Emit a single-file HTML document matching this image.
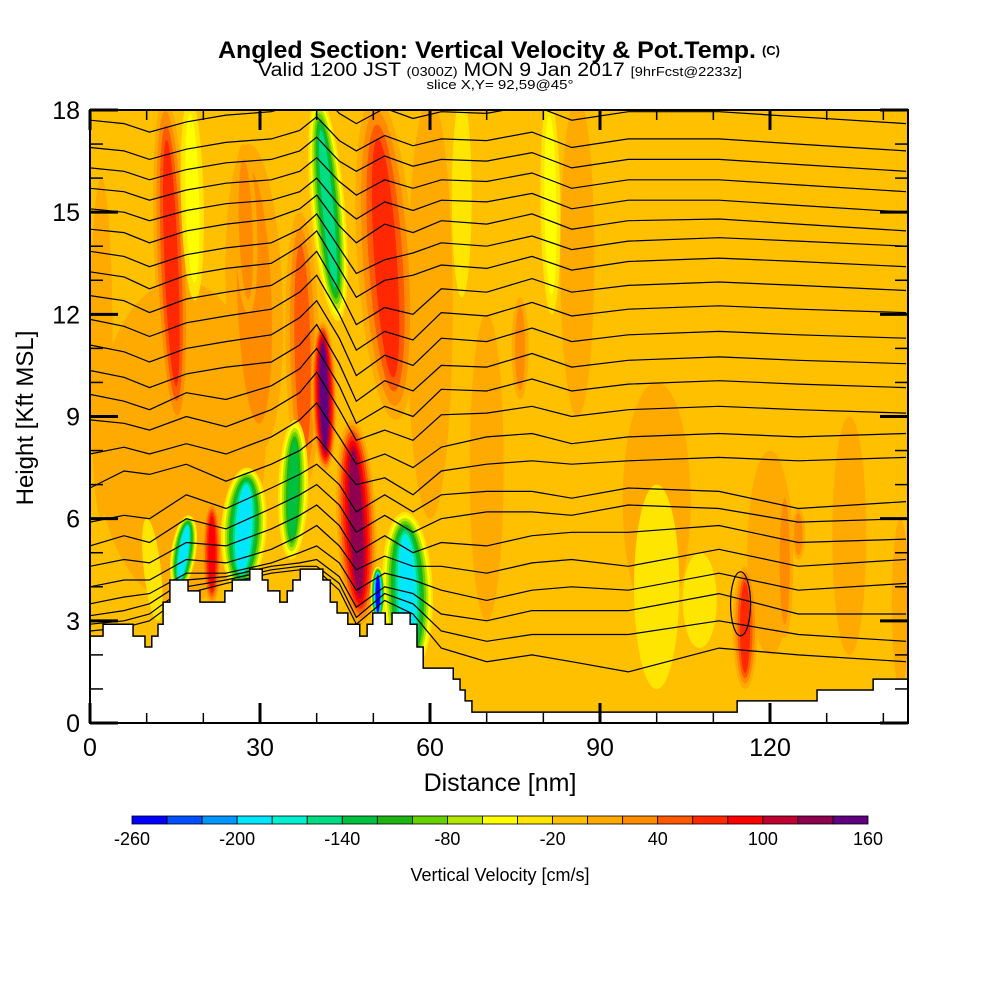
<!DOCTYPE html>
<html><head><meta charset="utf-8">
<style>
html,body{margin:0;padding:0;background:#fff;}
svg{display:block;font-family:"Liberation Sans",Arial,sans-serif;}
</style></head>
<body>
<svg id="chart" width="1000" height="1000" viewBox="0 0 1000 1000" xmlns="http://www.w3.org/2000/svg">
  <defs><clipPath id="plotclip"><rect x="90" y="110" width="818" height="613"/></clipPath></defs>
  <g>
    <text x="487" y="58" text-anchor="middle" font-size="24" font-weight="bold" textLength="538" lengthAdjust="spacingAndGlyphs">Angled Section: Vertical Velocity &amp; Pot.Temp.</text>
    <text x="771" y="55" text-anchor="middle" font-size="13" font-weight="bold">(C)</text>
  </g>
  <text x="500" y="76" text-anchor="middle" font-size="19" textLength="484" lengthAdjust="spacingAndGlyphs">Valid 1200 JST <tspan font-size="13">(0300Z)</tspan> MON 9 Jan 2017 <tspan font-size="13">[9hrFcst@2233z]</tspan></text>
  <text x="500" y="89" text-anchor="middle" font-size="13" textLength="147" lengthAdjust="spacingAndGlyphs">slice X,Y= 92,59@45°</text>
  <g id="plot" clip-path="url(#plotclip)"></g>
  <g id="axes"></g>
  <g id="cbar"></g>
  <text x="500" y="791" text-anchor="middle" font-size="25">Distance [nm]</text>
  <text transform="translate(33,418) rotate(-90)" text-anchor="middle" font-size="24">Height [Kft MSL]</text>
  <text x="500" y="881" text-anchor="middle" font-size="18">Vertical Velocity [cm/s]</text>
</svg>
<script>
// ---- data ----
const xTicks = [0,30,60,90,120];
const yTicks = [0,3,6,9,12,15,18];
const cbLevels = [-260,-240,-220,-200,-180,-160,-140,-120,-100,-80,-60,-40,-20,0,20,40,60,80,100,120,140,160];
const cbLabels = [-260,-200,-140,-80,-20,40,100,160];
const cbColors = ["#0000ff","#0050ff","#0096ff","#00e6ff","#00f0d2","#00dc82","#00c040","#1eb414","#64d200","#b4e600","#ffff00","#ffe600","#ffc000","#ffaa00","#ff8c00","#ff5a00","#ff2800","#ff0000","#c00030","#900050","#600080"];
// velocity blobs: start nm, start kft, end nm, end kft, width nm, peak level index
const blobX1 = [16,28,60,70,100,120,134,86,143,2,13.2,17.6,37,50.3,81,65.6,75.9,122.6,100,107.6,125,115.6,40.2,41,46.2,21.5,17.5,27.8,36.2,55.5,50.8,27,10];
const blobY1 = [13,17,18.4,12,10,8,9,18.4,6,16,18.4,18.4,15,18.4,18.4,18.4,12.5,7,7,5,6.3,4.6,18.4,11.8,8.9,6.5,6.1,7.5,8.9,6.2,4.6,17,6];
const blobX2 = [16,30,60,70,100,120,134,86,143,2,15.5,18.5,38,54,81.5,65.6,75.9,122.6,100,107.6,125,115.6,43.8,41.6,47.8,21.5,15.5,26.5,35.5,56.5,50.8,28,12];
const blobY2 = [3.5,8,6,3,3,2,2,9,1,6,8.6,12.4,7,8.9,12,12.5,9.5,2.5,1,2.2,4.8,1,11.8,7.4,2.9,3.5,3.9,3.9,4.8,1.5,3.0,12,3];
const blobW = [30,10,8,6,12,8,6,6,3,4,6,4,6,10,3.5,3.5,3,3,8,6,2.5,4.4,6,4.4,7,3.5,4.4,8,5.3,9,2.6,4,3];
const blobPeak = [13,14,13,13,13,13,13,13,13,13,16,10,15,16,10,11,14,14,11,11,14,16,5,20,19,17,3,3,6,3,0,14,11];
// terrain (step function): segment start nm and height kft
const terrStart = [0,2.3,7.6,9.7,10.9,12.0,12.9,14.1,17.3,19.4,23.8,25.1,28.2,30.4,31.4,33.5,34.8,35.8,37.1,41.1,42.4,43.6,45.5,47.6,48.9,49.9,52.1,53.3,56.5,57.7,58.8,64.1,65.3,66.2,67.4,114.2,128.3,138.2];
const terrH = [2.55,2.9,2.55,2.23,2.55,2.9,3.55,4.2,3.88,3.55,3.88,4.2,4.52,4.2,3.88,3.55,3.88,4.2,4.52,4.2,3.55,3.23,2.9,2.55,2.9,3.23,2.9,3.23,2.9,2.23,1.61,1.29,0.97,0.65,0.32,0.65,0.97,1.29];
// potential temperature contours, sampled at these distances
const contourX = [0,6,10.5,17,24,32,37,40,44,47,52,57,62,70,78,85,95,111,125,144];
const c01 = [17.7,17.6,17.35,17.65,17.85,17.95,18.2,18.6,17.9,17.6,18.05,17.75,17.95,17.9,18.15,17.7,17.95,17.95,17.8,17.6];
const c02 = [16.9,16.8,16.55,16.85,17.05,17.15,17.4,17.8,17.1,16.8,17.25,16.95,17.15,17.1,17.35,16.9,17.15,17.15,17.0,16.8];
const c03 = [16.3,16.2,15.95,16.25,16.45,16.55,16.8,17.2,16.5,16.2,16.65,16.35,16.55,16.5,16.75,16.3,16.55,16.55,16.4,16.2];
const c04 = [15.7,15.6,15.35,15.65,15.85,15.95,16.2,16.6,15.9,15.5,15.95,15.7,15.95,15.9,16.15,15.7,15.95,15.95,15.8,15.6];
const c05 = [15.1,15.0,14.75,15.05,15.25,15.35,15.6,16.0,15.2,14.8,15.3,15.05,15.35,15.3,15.55,15.1,15.35,15.35,15.2,15.0];
const c06 = [14.5,14.4,14.1,14.45,14.65,14.8,15.1,15.5,14.6,14.1,14.65,14.4,14.75,14.65,14.95,14.5,14.75,14.8,14.65,14.45];
const c07 = [13.85,13.7,13.4,13.75,13.95,14.1,14.5,14.95,13.95,13.2,13.6,13.8,14.1,14.0,14.3,13.9,14.15,14.25,14.15,14.0];
const c08 = [13.25,13.1,12.75,13.15,13.35,13.5,14.0,14.45,13.35,12.5,13.0,13.15,13.45,13.35,13.7,13.3,13.55,13.65,13.55,13.4];
const c09 = [12.55,12.4,12.05,12.45,12.65,12.85,13.35,13.85,12.7,11.7,12.2,12.0,12.75,12.65,13.05,12.65,12.85,12.95,12.85,12.7];
const c10 = [11.85,11.65,11.35,11.75,11.95,12.15,12.65,13.15,12.0,10.95,11.5,11.25,12.05,11.95,12.35,11.95,12.15,12.25,12.15,12.05];
const c11 = [11.1,10.9,10.6,11.0,11.2,11.4,11.9,12.4,11.3,10.2,10.8,10.5,11.3,11.2,11.6,11.2,11.4,11.5,11.4,11.3];
const c12 = [10.35,10.15,9.85,10.25,10.45,10.6,11.1,11.7,10.55,9.45,10.05,9.75,10.5,10.45,10.85,10.45,10.65,10.75,10.65,10.55];
const c13 = [9.65,9.45,9.2,9.7,9.5,9.9,10.4,11.0,9.9,8.8,9.3,9.0,9.8,9.75,10.1,9.75,9.95,10.05,9.95,9.85];
const c14 = [8.9,8.8,8.6,9.0,8.7,9.2,9.7,10.3,9.2,8.3,8.6,8.3,9.05,9.1,9.3,9.0,9.2,9.3,9.2,9.1];
const c15 = [7.9,8.1,7.9,8.2,7.9,8.4,8.9,9.4,8.4,7.6,7.9,7.5,8.1,8.4,8.5,8.2,8.4,8.5,8.4,8.5];
const c16 = [6.9,7.4,7.3,7.6,7.1,7.6,8.0,8.4,7.6,7.0,7.2,6.7,7.4,7.6,7.7,7.6,7.7,7.8,7.7,7.8];
const c17 = [5.9,6.1,6.0,6.7,6.3,6.9,7.3,7.6,7.0,6.2,6.7,6.2,6.7,6.8,6.8,6.6,6.9,6.8,6.3,6.5];
const c18 = [5.2,5.5,5.3,6.0,5.7,6.3,6.7,7.0,6.4,5.6,6.1,5.6,6.0,6.2,6.2,6.1,6.4,6.3,5.9,6.0];
const c19 = [4.6,4.8,4.7,5.3,5.2,5.7,6.1,6.4,5.8,5.0,5.5,5.0,5.3,5.2,5.5,5.6,5.6,5.8,5.3,5.4];
const c20 = [4.0,4.2,4.2,4.8,4.7,5.1,5.5,5.8,5.2,4.5,4.9,4.6,4.6,4.4,4.7,4.8,4.6,5.1,4.6,4.8];
const c21 = [3.5,3.7,3.8,4.4,4.4,4.7,5.0,5.2,4.7,3.9,4.4,4.2,3.9,3.6,3.9,4.0,3.9,4.4,3.9,4.1];
const c22 = [3.15,3.3,3.5,4.2,4.3,4.6,4.7,4.8,4.3,3.4,4.0,3.8,3.2,3.0,3.3,3.3,3.3,3.8,3.2,3.2];
const c23 = [2.9,3.0,3.2,4.0,4.2,4.5,4.6,4.6,4.1,3.1,3.8,3.5,2.7,2.4,2.6,2.6,2.6,3.0,2.6,2.4];
const c24 = [2.7,2.8,3.0,3.8,4.1,4.4,4.5,4.5,3.9,2.9,3.6,3.2,2.2,1.8,2.0,1.8,1.5,2.2,2.0,1.8];
const contours = [c01,c02,c03,c04,c05,c06,c07,c08,c09,c10,c11,c12,c13,c14,c15,c16,c17,c18,c19,c20,c21,c22,c23,c24];

// ---- scales ----
const X0=90, X1=908, Y0=723, Y1=110, XMAX=144.35, YMAX=18;
const sx = v => X0 + v/XMAX*(X1-X0);
const sy = v => Y0 - v/YMAX*(Y0-Y1);
const NS="http://www.w3.org/2000/svg";
function mk(tag, parent){const e=document.createElementNS(NS,tag);parent.appendChild(e);return e;}
const plot=document.getElementById('plot');

const bg=mk('rect',plot);


bg.setAttribute('x',X0);bg.setAttribute('y',Y1);bg.setAttribute('width',X1-X0);bg.setAttribute('height',Y0-Y1);bg.setAttribute('fill',cbColors[12]);

blobPeak.forEach((p,i)=>{
  const g=mk('g',plot);
  
  
  const ax=sx(blobX1[i]), ay=sy(blobY1[i]), bx=sx(blobX2[i]), by=sy(blobY2[i]);
  const cx=(ax+bx)/2, cy=(ay+by)/2;
  const len=Math.hypot(bx-ax,by-ay)/2;
  const wid=(sx(blobW[i])-sx(0))/2;
  const ang=Math.atan2(by-ay,bx-ax)*180/Math.PI;
  const n=Math.abs(p-12);
  const dir=p>12?1:-1;
  for(let j=1;j<=n;j++){
    const s=1-(j-1)/n*0.8;
    const sl=1-(j-1)/n*0.35;
    const el=mk('ellipse',g);
    
    
    el.setAttribute('cx',cx);el.setAttribute('cy',cy);
    el.setAttribute('rx',len*sl);el.setAttribute('ry',wid*s);
    el.setAttribute('transform',`rotate(${ang} ${cx} ${cy})`);
    el.setAttribute('fill',cbColors[12+dir*j]);
  }
});

contours.forEach((c,k)=>{
  const path=mk('path',plot);
  
  
  path.setAttribute('d',c.map((v,i)=>(i?'L':'M')+sx(contourX[i]).toFixed(1)+' '+sy(v).toFixed(1)).join(''));
  path.setAttribute('fill','none');path.setAttribute('stroke','#000');path.setAttribute('stroke-width','1.2');
});
const loop=mk('ellipse',plot);


loop.setAttribute('cx',sx(114.8));loop.setAttribute('cy',sy(3.5));loop.setAttribute('rx',10);loop.setAttribute('ry',32);
loop.setAttribute('fill','none');loop.setAttribute('stroke','#000');loop.setAttribute('stroke-width','1.2');

// terrain
let d='M'+sx(0)+' '+Y0;
terrStart.forEach((s,i)=>{
  const e=i+1<terrStart.length?terrStart[i+1]:XMAX;
  d+=`L${sx(s)} ${sy(terrH[i])}L${sx(e)} ${sy(terrH[i])}`;
});
d+=`L${sx(XMAX)} ${Y0}Z`;
const terr=mk('path',plot);


terr.setAttribute('d',d);terr.setAttribute('fill','#fff');terr.setAttribute('stroke','#000');terr.setAttribute('stroke-width','1.5');

// axes
const axes=document.getElementById('axes');
const frame=mk('rect',axes);


frame.setAttribute('x',X0);frame.setAttribute('y',Y1);frame.setAttribute('width',X1-X0);frame.setAttribute('height',Y0-Y1);
frame.setAttribute('fill','none');frame.setAttribute('stroke','#000');frame.setAttribute('stroke-width','2');
function line(x1,y1,x2,y2,w){const l=mk('line',axes);l.setAttribute('x1',x1);l.setAttribute('y1',y1);l.setAttribute('x2',x2);l.setAttribute('y2',y2);l.setAttribute('stroke','#000');l.setAttribute('stroke-width',w);}
for(let v=0;v<=XMAX;v+=10){const maj=v%30===0;const L=maj?20:10;const x=sx(v);line(x,Y0,x,Y0-L,maj?3:1.5);line(x,Y1,x,Y1+L,maj?3:1.5);}
for(let v=0;v<=YMAX;v+=1){const maj=v%3===0;const L=maj?28:13;const y=sy(v);line(X0,y,X0+L,y,maj?3:1.5);line(X1,y,X1-L,y,maj?3:1.5);}
xTicks.forEach(v=>{const t=mk('text',axes);t.setAttribute('x',sx(v));t.setAttribute('y',756);t.setAttribute('text-anchor','middle');t.setAttribute('font-size','25');t.textContent=v;});
yTicks.forEach(v=>{const t=mk('text',axes);t.setAttribute('x',80);t.setAttribute('y',sy(v)+9);t.setAttribute('text-anchor','end');t.setAttribute('font-size','25');t.textContent=v;});

// colorbar
const cb=document.getElementById('cbar');
const CB0=132, CB1=868, CBY=816, CBH=8;
const cs=v=>CB0+(v-cbLevels[0])/(cbLevels[cbLevels.length-1]-cbLevels[0])*(CB1-CB0);
cbColors.forEach((c,i)=>{const r=mk('rect',cb);r.setAttribute('x',cs(cbLevels[i]));r.setAttribute('y',CBY);r.setAttribute('width',cs(cbLevels[i+1])-cs(cbLevels[i]));r.setAttribute('height',CBH);r.setAttribute('fill',c);r.setAttribute('stroke','#000');r.setAttribute('stroke-width','0.8');});
cbLabels.forEach(v=>{const t=mk('text',cb);t.setAttribute('x',cs(v));t.setAttribute('y',845);t.setAttribute('text-anchor','middle');t.setAttribute('font-size','18');t.textContent=v;});
</script>
</body></html>
